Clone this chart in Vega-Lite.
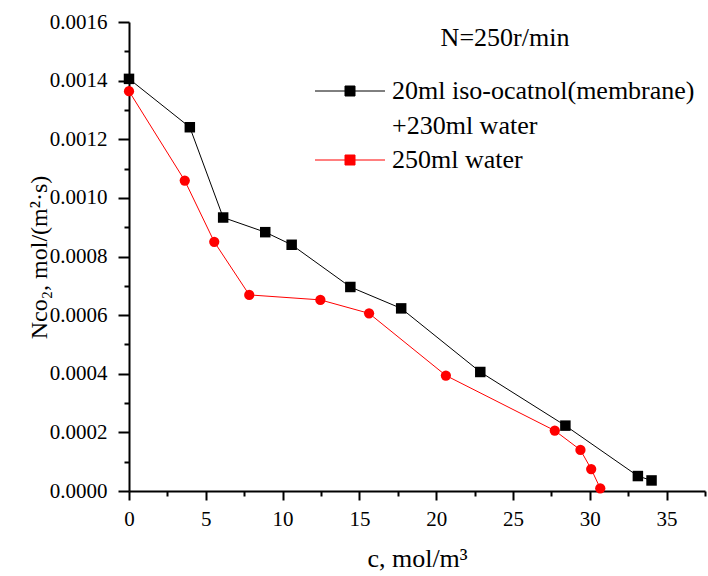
{
  "$schema": "https://vega.github.io/schema/vega-lite/v6.json",
  "width": 576,
  "height": 469,
  "autosize": {"type": "none"},
  "padding": {"left": 129, "top": 22, "right": 3, "bottom": 85},
  "background": "white",
  "config": {
    "view": {"stroke": null},
    "font": "Liberation Serif, Times New Roman, serif",
    "style": {"guide-label": {"lineHeight": 35}},
    "axis": {
      "grid": false,
      "domainColor": "black",
      "domainWidth": 2,
      "tickColor": "black",
      "tickWidth": 2,
      "labelFont": "Liberation Serif, Times New Roman, serif",
      "labelFontSize": 21,
      "labelColor": "black",
      "titleFont": "Liberation Serif, Times New Roman, serif",
      "titleFontWeight": "normal",
      "titleColor": "black"
    },
    "legend": {
      "labelFont": "Liberation Serif, Times New Roman, serif",
      "titleFont": "Liberation Serif, Times New Roman, serif"
    }
  },
  "data": {
    "values": [
      {"series": "20ml iso-ocatnol(membrane)", "c": 0, "N": 0.001406},
      {"series": "20ml iso-ocatnol(membrane)", "c": 3.96, "N": 0.001241},
      {"series": "20ml iso-ocatnol(membrane)", "c": 6.13, "N": 0.000933},
      {"series": "20ml iso-ocatnol(membrane)", "c": 8.87, "N": 0.000883},
      {"series": "20ml iso-ocatnol(membrane)", "c": 10.59, "N": 0.00084},
      {"series": "20ml iso-ocatnol(membrane)", "c": 14.41, "N": 0.000696},
      {"series": "20ml iso-ocatnol(membrane)", "c": 17.72, "N": 0.000623},
      {"series": "20ml iso-ocatnol(membrane)", "c": 22.87, "N": 0.000406},
      {"series": "20ml iso-ocatnol(membrane)", "c": 28.41, "N": 0.000223},
      {"series": "20ml iso-ocatnol(membrane)", "c": 33.13, "N": 0.000051},
      {"series": "20ml iso-ocatnol(membrane)", "c": 34.02, "N": 0.000036},
      {"series": "250ml water", "c": 0, "N": 0.001364},
      {"series": "250ml water", "c": 3.63, "N": 0.001059},
      {"series": "250ml water", "c": 5.55, "N": 0.00085},
      {"series": "250ml water", "c": 7.83, "N": 0.000669},
      {"series": "250ml water", "c": 12.46, "N": 0.000652},
      {"series": "250ml water", "c": 15.63, "N": 0.000606},
      {"series": "250ml water", "c": 20.63, "N": 0.000394},
      {"series": "250ml water", "c": 27.72, "N": 0.000206},
      {"series": "250ml water", "c": 29.39, "N": 0.00014},
      {"series": "250ml water", "c": 30.09, "N": 0.000075},
      {"series": "250ml water", "c": 30.68, "N": 0.000009}
    ]
  },
  "encoding": {
    "x": {
      "field": "c",
      "type": "quantitative",
      "scale": {"domain": [0, 37.5], "nice": false, "zero": false},
      "axis": {
        "title": "c, mol/m³",
        "titleFontSize": 26,
        "titleY": 75,
        "titleBaseline": "alphabetic",
        "values": [0, 2.5, 5, 7.5, 10, 12.5, 15, 17.5, 20, 22.5, 25, 27.5, 30, 32.5, 35, 37.5],
        "format": "d",
        "labelExpr": "datum.value % 5 === 0 ? datum.label : ''",
        "tickSize": {"condition": {"test": "datum.value % 5 === 0", "value": 9}, "value": 5},
        "labelPadding": 8,
        "labelFlush": false,
        "labelOverlap": false
      }
    },
    "y": {
      "field": "N",
      "type": "quantitative",
      "scale": {"domain": [0, 0.0016], "nice": false, "zero": false},
      "axis": {
        "title": "Nco₂, mol/(m²·s)",
        "titleFontSize": 24,
        "titleX": -83,
        "titleY": 235,
        "titleBaseline": "alphabetic",
        "values": [0, 0.0001, 0.0002, 0.0003, 0.0004, 0.0005, 0.0006, 0.0007, 0.0008, 0.0009, 0.001, 0.0011, 0.0012, 0.0013, 0.0014, 0.0015, 0.0016],
        "format": ".4f",
        "labelExpr": "round(datum.value * 10000) % 2 === 0 ? datum.label : ''",
        "tickSize": {"condition": {"test": "round(datum.value * 10000) % 2 === 0", "value": 11}, "value": 5},
        "labelPadding": 11,
        "labelFlush": false,
        "labelOverlap": false
      }
    },
    "color": {
      "field": "series",
      "type": "nominal",
      "scale": {"domain": ["20ml iso-ocatnol(membrane)", "250ml water"], "range": ["black", "red"]},
      "legend": {
        "orient": "none",
        "legendX": 186,
        "legendY": 3,
        "padding": 0,
        "title": "N=250r/min",
        "titleFontSize": 26,
        "titleFontWeight": "normal",
        "titleColor": "black",
        "titleAnchor": "middle",
        "titlePadding": 27,
        "labelFontSize": 26,
        "labelColor": "black",
        "labelLimit": 0,
        "symbolSize": 100,
        "symbolOffset": 22,
        "labelOffset": 29,
        "rowPadding": 8,
        "symbolStrokeWidth": 1,
        "symbolType": "M-7,0H7M-1,-1H1V1H-1Z",
        "labelExpr": "datum.value === '20ml iso-ocatnol(membrane)' ? ['20ml iso-ocatnol(membrane)', '+230ml water'] : datum.label"
      }
    }
  },
  "layer": [
    {"mark": {"type": "line", "strokeWidth": 1}},
    {
      "transform": [{"filter": "datum.series === '20ml iso-ocatnol(membrane)'"}],
      "mark": {"type": "point", "filled": true, "opacity": 1, "size": 110, "shape": "square"}
    },
    {
      "transform": [{"filter": "datum.series === '250ml water'"}],
      "mark": {"type": "point", "filled": true, "opacity": 1, "size": 105, "shape": "circle"}
    }
  ]
}
